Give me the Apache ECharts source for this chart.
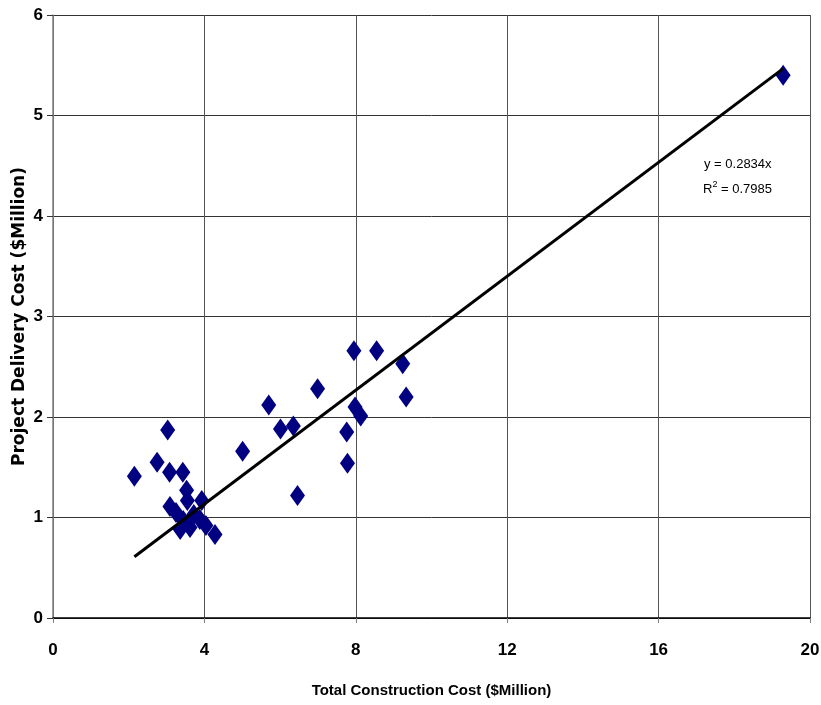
<!DOCTYPE html>
<html>
<head>
<meta charset="utf-8">
<script src="https://cdn.jsdelivr.net/npm/echarts@6/dist/echarts.min.js"></script>
<style>
  html, body { margin: 0; padding: 0; background: #fff; }
  #chart { width: 821px; height: 705px; }
</style>
</head>
<body>
<div id="chart"></div>
<script>
// Total construction cost ($Million) per project
const constructionCost = [
  19.29, 2.15, 2.75, 3.03, 3.08, 3.43, 3.53, 3.55, 3.09, 3.25, 3.93,
  3.44, 3.36, 3.62, 3.72, 3.88, 4.04, 4.28, 5.01, 5.70, 6.01, 6.35,
  6.46, 6.99, 7.76, 7.78, 7.95, 7.98, 8.13, 8.55, 9.24, 9.33
];
// Project delivery cost ($Million) per project
const deliveryCost = [
  5.40, 1.41, 1.55, 1.87, 1.45, 1.45, 1.27, 1.17, 1.11, 1.05, 1.17,
  0.97, 0.88, 0.90, 1.03, 0.98, 0.92, 0.83, 1.66, 2.12, 1.88, 1.91,
  1.22, 2.28, 1.85, 1.54, 2.66, 2.10, 2.01, 2.66, 2.53, 2.20
];
// Linear fit through the origin
const trendSlope = 0.2834;
const trendR2 = 0.7985;

const xTicks = [0, 4, 8, 12, 16, 20];
const yTicks = [0, 1, 2, 3, 4, 5, 6];

const points = constructionCost.map((x, i) => [x, deliveryCost[i]]);
const xMin = Math.min(...constructionCost);
const xMax = Math.max(...constructionCost);
const trend = [[xMin, trendSlope * xMin], [xMax, trendSlope * xMax]];

const sans = '"Liberation Sans", Arial, sans-serif';

const chart = echarts.init(document.getElementById('chart'));
chart.setOption({
  animation: false,
  backgroundColor: '#ffffff',
  grid: { left: 53, right: 11, top: 15, bottom: 87, containLabel: false, outerBoundsMode: 'none' },
  xAxis: {
    type: 'value',
    min: xTicks[0], max: xTicks[xTicks.length - 1], interval: 4,
    name: 'Total Construction Cost ($Million)',
    nameLocation: 'middle', nameGap: 65, nameMoveOverlap: false,
    nameTextStyle: { fontFamily: sans, fontWeight: 'bold', fontSize: 15, color: '#000' },
    axisLine: { show: true, lineStyle: { color: '#000', width: 1.5 } },
    axisTick: { show: true, length: 5, lineStyle: { color: '#808080' } },
    axisLabel: { margin: 24, fontFamily: sans, fontWeight: 'bold', fontSize: 17, color: '#000' },
    splitLine: { show: true, lineStyle: { color: '#555', width: 1 } }
  },
  yAxis: {
    type: 'value',
    min: yTicks[0], max: yTicks[yTicks.length - 1], interval: 1,
    name: 'Project Delivery Cost ($Million)',
    nameLocation: 'middle', nameGap: 25, nameMoveOverlap: false,
    nameTextStyle: { fontFamily: '"DejaVu Sans", Verdana, sans-serif', fontWeight: 'bold', fontSize: 17, color: '#000' },
    axisLine: { show: true, lineStyle: { color: '#808080', width: 1.5 } },
    axisTick: { show: true, length: 6, lineStyle: { color: '#333' } },
    axisLabel: { margin: 10, fontFamily: sans, fontWeight: 'bold', fontSize: 17, color: '#000' },
    splitLine: { show: true, lineStyle: { color: '#333', width: 1 } }
  },
  graphic: [{
    type: 'text',
    left: 704, top: 158,
    style: {
      text: 'y = 0.2834x',
      font: '13px ' + sans,
      fill: '#000'
    }
  }, {
    type: 'text',
    left: 703, top: 180,
    style: {
      text: '{b|R}{s|2}{b| = ' + trendR2.toFixed(4) + '}',
      rich: {
        b: { fontFamily: sans, fontSize: 13, color: '#000', verticalAlign: 'bottom', lineHeight: 16 },
        s: { fontFamily: sans, fontSize: 9, color: '#000', verticalAlign: 'top', lineHeight: 16, padding: [0, 0, 8, 0] }
      }
    }
  }],
  series: [{
    type: 'scatter',
    data: points,
    symbol: 'diamond',
    symbolSize: [15, 21],
    itemStyle: { color: '#000080', opacity: 1 },
    z: 3
  }, {
    type: 'line',
    data: trend,
    symbol: 'none',
    lineStyle: { color: '#000', width: 3 },
    z: 4
  }]
});
</script>
</body>
</html>
